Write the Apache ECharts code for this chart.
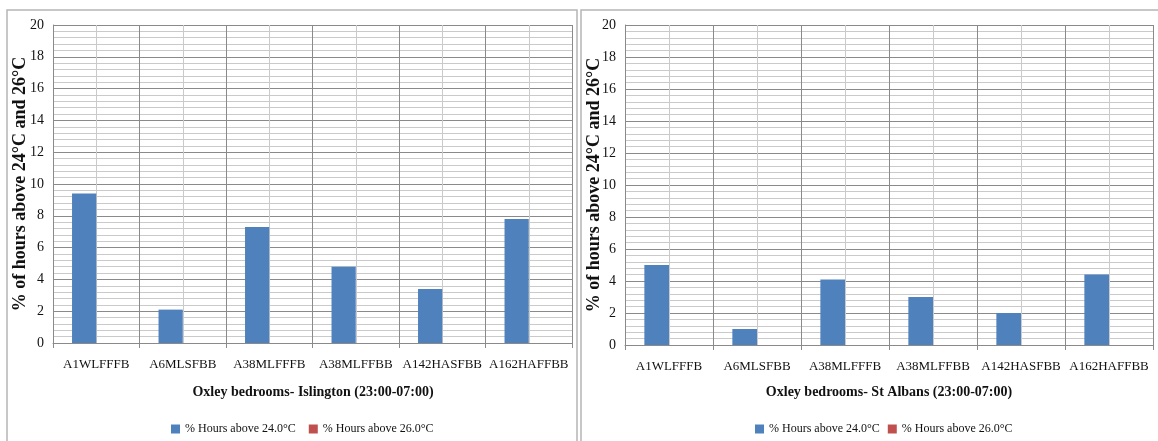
<!DOCTYPE html>
<html>
<head>
<meta charset="utf-8">
<script src="https://cdn.jsdelivr.net/npm/echarts@6/dist/echarts.min.js"></script>
<style>
html,body{margin:0;padding:0;background:#fff;}
#chart{width:1158px;height:441px;}
</style>
</head>
<body>
<div id="chart"></div>
<script>
var categories = ['A1WLFFFB', 'A6MLSFBB', 'A38MLFFFB', 'A38MLFFBB', 'A142HASFBB', 'A162HAFFBB'];
var islington24 = [9.4, 2.1, 7.3, 4.8, 3.4, 7.8];
var islington26 = [0, 0, 0, 0, 0, 0];
var stAlbans24 = [5.0, 1.0, 4.1, 3.0, 2.0, 4.4];
var stAlbans26 = [0, 0, 0, 0, 0, 0];
var seriesNames = ['% Hours above 24.0\u00B0C', '% Hours above 26.0\u00B0C'];
var yTicks = [0, 2, 4, 6, 8, 10, 12, 14, 16, 18, 20];
var panelTitles = ['Oxley bedrooms- Islington (23:00-07:00)', 'Oxley bedrooms- St Albans (23:00-07:00)'];
var yAxisTitle = '% of hours above 24\u00B0C and 26\u00B0C';

var FONT = '"Liberation Serif", "Times New Roman", serif';
var MAJOR = '#8a8a8a';
var MINOR = '#cacaca';
var BLUE = '#4F81BD';
var RED = '#C0504D';

var grids = [
  {left: 53, top: 25, width: 519, height: 318},
  {left: 625, top: 25, width: 528, height: 320}
];

function catAxis(gi) {
  return {
    type: 'category', gridIndex: gi, data: categories,
    boundaryGap: true,
    axisLine: {show: true, lineStyle: {color: MAJOR, width: 1}},
    axisTick: {show: true, length: 5, alignWithLabel: false, lineStyle: {color: MAJOR}},
    axisLabel: {interval: 0, margin: 15, fontFamily: FONT, fontSize: 13, color: '#111'},
    splitLine: {show: false},
    z: 3
  };
}
function gridLineAxis(gi) {
  // helper axis for vertical gridlines: boundaries dark, category centres light
  return {
    type: 'value', gridIndex: gi, min: 0, max: 12, interval: 1,
    position: 'top',
    axisLine: {show: false}, axisTick: {show: false}, axisLabel: {show: false},
    splitLine: {show: true, lineStyle: {color: [MAJOR, MINOR], width: 1}}
  };
}
function valAxis(gi) {
  return {
    type: 'value', gridIndex: gi, min: yTicks[0], max: yTicks[yTicks.length - 1], interval: 2,
    axisLine: {show: true, lineStyle: {color: MAJOR}},
    axisTick: {show: false},
    axisLabel: {margin: 9, fontFamily: FONT, fontSize: 14, color: '#111',
      formatter: function (v) { return yTicks.indexOf(v) >= 0 ? String(v) : ''; }},
    splitLine: {show: true, lineStyle: {color: MAJOR, width: 1}},
    minorTick: {show: false, splitNumber: 5},
    minorSplitLine: {show: true, lineStyle: {color: MINOR, width: 1}}
  };
}

function bar(name, data, color, xi, yi) {
  return {
    type: 'bar', name: name, data: data,
    xAxisIndex: xi, yAxisIndex: yi,
    barGap: '0%', barCategoryGap: '44%',
    itemStyle: {color: color},
    emphasis: {disabled: true},
    z: 4
  };
}

var option = {
  animation: false,
  backgroundColor: '#ffffff',
  grid: grids,
  xAxis: [catAxis(0), catAxis(1), gridLineAxis(0), gridLineAxis(1)],
  yAxis: [valAxis(0), valAxis(1)],
  legend: [
    {data: seriesNames, left: 166, top: 418, itemWidth: 9, itemHeight: 9, itemGap: 13,
     icon: 'rect', textStyle: {fontFamily: FONT, fontSize: 12, color: '#111'}, selectedMode: false},
    {data: seriesNames.map(function (n) { return n + ' '; }), left: 750, top: 418, itemWidth: 9, itemHeight: 9, itemGap: 8,
     icon: 'rect', textStyle: {fontFamily: FONT, fontSize: 12, color: '#111'}, selectedMode: false,
     formatter: function (n) { return n.trim(); }}
  ],
  series: [
    bar(seriesNames[0], islington24, BLUE, 0, 0),
    bar(seriesNames[1], islington26, RED, 0, 0),
    bar(seriesNames[0] + ' ', stAlbans24, BLUE, 1, 1),
    bar(seriesNames[1] + ' ', stAlbans26, RED, 1, 1)
  ],
  graphic: [
    {type: 'rect', shape: {x: 7, y: 10, width: 570, height: 445}, style: {fill: 'none', stroke: '#b5b5b5', lineWidth: 1.5}, z: -1, silent: true},
    {type: 'rect', shape: {x: 581, y: 10, width: 590, height: 445}, style: {fill: 'none', stroke: '#b5b5b5', lineWidth: 1.5}, z: -1, silent: true},
    {type: 'text', x: 20, y: 184, rotation: Math.PI / 2,
     style: {text: yAxisTitle, fontFamily: FONT, fontWeight: 'bold', fontSize: 18, fill: '#111', textAlign: 'center', textVerticalAlign: 'middle'}},
    {type: 'text', x: 594, y: 185, rotation: Math.PI / 2,
     style: {text: yAxisTitle, fontFamily: FONT, fontWeight: 'bold', fontSize: 18, fill: '#111', textAlign: 'center', textVerticalAlign: 'middle'}},
    {type: 'text', x: 313, y: 392,
     style: {text: panelTitles[0], fontFamily: FONT, fontWeight: 'bold', fontSize: 14, fill: '#111', textAlign: 'center', textVerticalAlign: 'middle'}},
    {type: 'text', x: 889, y: 392,
     style: {text: panelTitles[1], fontFamily: FONT, fontWeight: 'bold', fontSize: 14, fill: '#111', textAlign: 'center', textVerticalAlign: 'middle'}}
  ]
};

var chart = echarts.init(document.getElementById('chart'), null, {renderer: 'canvas'});
chart.setOption(option);
</script>
</body>
</html>
